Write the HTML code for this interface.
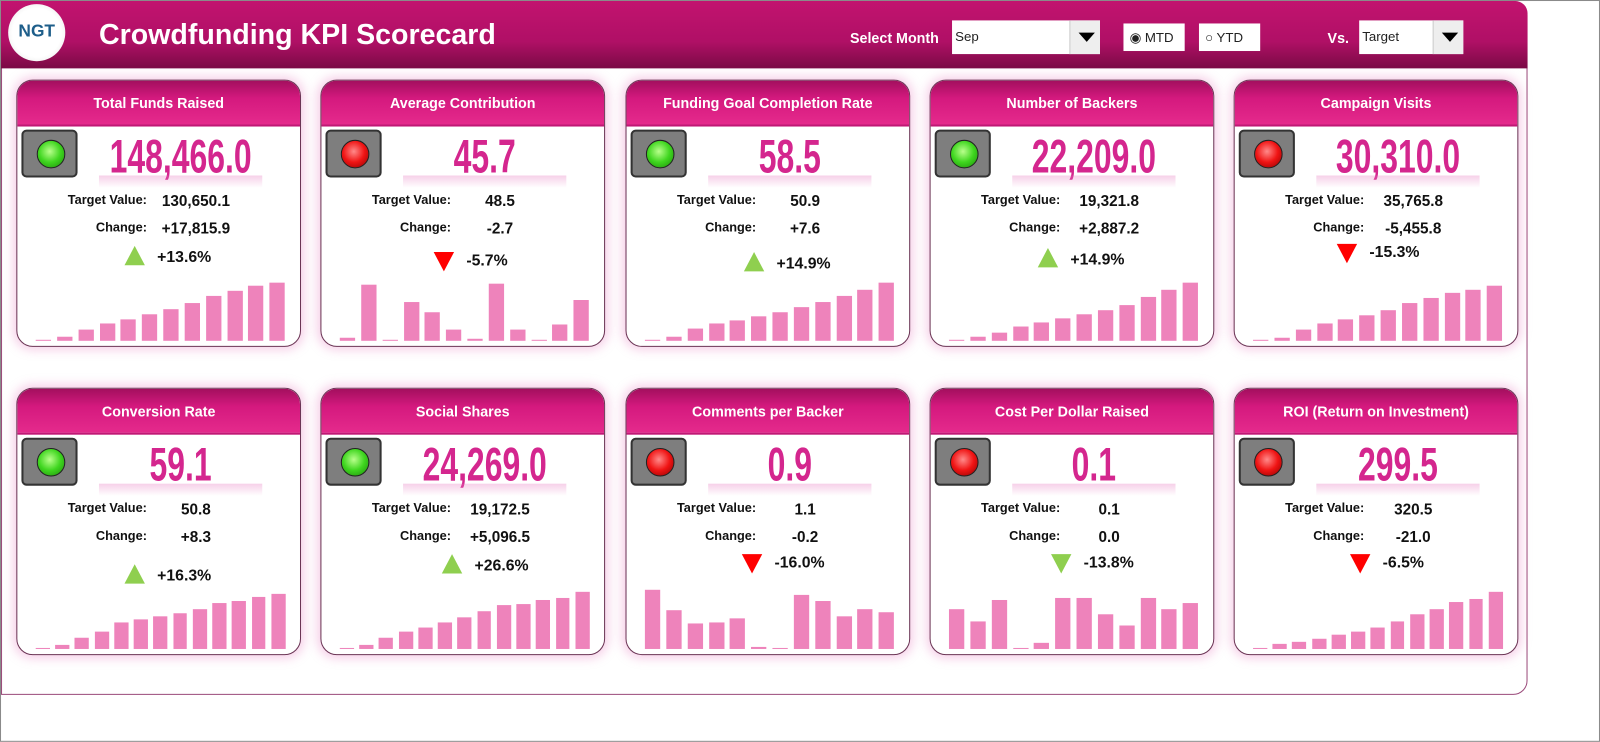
<!DOCTYPE html>
<html><head><meta charset="utf-8">
<style>
*{box-sizing:border-box;margin:0;padding:0}
html,body{width:1600px;height:742px;overflow:hidden;background:#fff}
body{font-family:"Liberation Sans",sans-serif;position:relative}
#w{position:absolute;left:0;top:0;width:1568px;height:727px;transform:scale(1.0204);transform-origin:0 0;border:1px solid #8a8a8a}
.frame{position:absolute;left:0;top:0;width:1496px;height:680px;border:1px solid #9a4a7a;border-radius:0 14px 14px 0;background:#fff}
.hdr{position:absolute;left:0;top:0;width:1496px;height:66px;background:linear-gradient(#c2136f,#b01066 60%,#7a0a45);border-radius:0 12px 0 0}
.logo{position:absolute;left:7px;top:3px;width:56px;height:56px;border-radius:50%;background:radial-gradient(#fff 60%,#ddd);text-align:center;font:bold 17px "Liberation Sans",sans-serif;color:#1e5e8a;line-height:54px}
.title{position:absolute;left:96px;top:17px;color:#fff;font-weight:bold;font-size:28px}
.ctl{position:absolute;color:#fff;font-weight:bold;font-size:14px}
.box{position:absolute;background:#fff;font-size:13px;color:#222;padding:8px 3px}
.arr{position:absolute;right:0;top:0;width:30px;height:100%;background:#eee;border-left:1px solid #ccc}
.arr:after{content:"";position:absolute;left:8px;top:12px;border-left:8px solid transparent;border-right:8px solid transparent;border-top:9px solid #000}
.card{position:absolute;width:279px;height:262px;border:1.5px solid #6b3555;border-radius:16px;background:#fff;box-shadow:0 0 10px 3px rgba(230,120,190,.35);overflow:hidden}
.ch{height:45px;background:linear-gradient(#a30f5e,#d4197e 40%,#e52a8c);color:#fff;font-weight:bold;font-size:14px;text-align:center;line-height:44px;border-bottom:2px solid #c01875}
.light{position:absolute;left:4px;top:48px;width:55px;height:47px;border:2px solid #333;border-radius:5px;background:#7e7e7e}
.light i{position:absolute;left:13px;top:8px;width:28px;height:28px;border-radius:50%;border:1px solid #222}
.g i{background:radial-gradient(circle at 45% 40%,#b9ff8c,#3fd61f 50%,#1c8a0a)}
.r i{background:radial-gradient(circle at 45% 40%,#ff8a8a,#f01414 50%,#8a0000)}
.big{position:absolute;left:40px;width:240px;top:47px;text-align:center;font-weight:bold;font-size:46px;color:#d4268e;transform:scaleX(0.68);letter-spacing:0px}
.refl{position:absolute;left:80px;width:160px;top:93px;height:12px;background:linear-gradient(rgba(230,120,190,.35),rgba(255,255,255,0))}
.lb{position:absolute;right:150px;font-weight:bold;font-size:12.5px;color:#111}
.vl{position:absolute;left:135px;width:80px;text-align:center;font-weight:bold;font-size:15px;color:#111}
.pc{position:absolute;left:120px;width:120px;font-weight:bold;font-size:15.5px;color:#111}
.up{display:inline-block;width:0;height:0;border-left:10px solid transparent;border-right:10px solid transparent;border-bottom:19px solid #8fcf4f;vertical-align:-3px;margin-right:12px}
.dn{display:inline-block;width:0;height:0;border-left:10px solid transparent;border-right:10px solid transparent;border-top:19px solid #f00;vertical-align:-6px;margin-right:12px}
.dg{border-top-color:#8fcf4f}
.bars{position:absolute;left:16px;bottom:5px;width:250px;height:62px}
.bars b{position:absolute;bottom:0;width:15px;background:#ee83bb}
</style></head><body><div id="w">
<div class="frame"></div>
<div class="hdr"></div>
<div class="logo">NGT</div>
<div class="title">Crowdfunding KPI Scorecard</div>
<div class="ctl" style="left:832px;top:28px">Select Month</div>
<div class="box" style="left:932px;top:19px;width:145px;height:33px">Sep<span class="arr"></span></div>
<div class="box" style="left:1100px;top:22px;width:60px;height:27px;padding:6px 6px">◉ MTD</div>
<div class="box" style="left:1174px;top:22px;width:60px;height:27px;padding:6px 6px">○ YTD</div>
<div class="ctl" style="left:1300px;top:28px">Vs.</div>
<div class="box" style="left:1331px;top:19px;width:102px;height:33px">Target<span class="arr"></span></div>

<div class="card" style="left:15px;top:77px"><div class="ch">Total Funds Raised</div><div class="light g"><i></i></div><div class="big">148,466.0</div><div class="refl"></div><div class="lb" style="top:110px">Target Value:</div><div class="vl" style="top:110px">130,650.1</div><div class="lb" style="top:137px">Change:</div><div class="vl" style="top:137px">+17,815.9</div><div class="pc" style="left:105px;top:162px"><span class="up"></span>+13.6%</div><div class="bars" data-h="1,4,11,17,21,26,31,37,44,49,54,57"></div></div>
<div class="card" style="left:313px;top:77px"><div class="ch">Average Contribution</div><div class="light r"><i></i></div><div class="big">45.7</div><div class="refl"></div><div class="lb" style="top:110px">Target Value:</div><div class="vl" style="top:110px">48.5</div><div class="lb" style="top:137px">Change:</div><div class="vl" style="top:137px">-2.7</div><div class="pc" style="left:110px;top:168px"><span class="dn"></span>-5.7%</div><div class="bars" data-h="3,55,1,38,28,11,2,56,11,1,16,40"></div></div>
<div class="card" style="left:612px;top:77px"><div class="ch">Funding Goal Completion Rate</div><div class="light g"><i></i></div><div class="big">58.5</div><div class="refl"></div><div class="lb" style="top:110px">Target Value:</div><div class="vl" style="top:110px">50.9</div><div class="lb" style="top:137px">Change:</div><div class="vl" style="top:137px">+7.6</div><div class="pc" style="left:115px;top:168px"><span class="up"></span>+14.9%</div><div class="bars" data-h="1,4,12,17,20,24,28,33,38,44,50,57"></div></div>
<div class="card" style="left:910px;top:77px"><div class="ch">Number of Backers</div><div class="light g"><i></i></div><div class="big">22,209.0</div><div class="refl"></div><div class="lb" style="top:110px">Target Value:</div><div class="vl" style="top:110px">19,321.8</div><div class="lb" style="top:137px">Change:</div><div class="vl" style="top:137px">+2,887.2</div><div class="pc" style="left:105px;top:164px"><span class="up"></span>+14.9%</div><div class="bars" data-h="1,4,8,14,18,22,26,30,35,43,50,57"></div></div>
<div class="card" style="left:1208px;top:77px"><div class="ch">Campaign Visits</div><div class="light r"><i></i></div><div class="big">30,310.0</div><div class="refl"></div><div class="lb" style="top:110px">Target Value:</div><div class="vl" style="top:110px">35,765.8</div><div class="lb" style="top:137px">Change:</div><div class="vl" style="top:137px">-5,455.8</div><div class="pc" style="left:100px;top:160px"><span class="dn"></span>-15.3%</div><div class="bars" data-h="1,3,11,17,21,25,30,37,42,47,50,54"></div></div>

<div class="card" style="left:15px;top:379px"><div class="ch">Conversion Rate</div><div class="light g"><i></i></div><div class="big">59.1</div><div class="refl"></div><div class="lb" style="top:110px">Target Value:</div><div class="vl" style="top:110px">50.8</div><div class="lb" style="top:137px">Change:</div><div class="vl" style="top:137px">+8.3</div><div class="pc" style="left:105px;top:172px"><span class="up"></span>+16.3%</div><div class="bars" data-h="1,4,11,17,26,29,32,35,39,45,47,51,54"></div></div>
<div class="card" style="left:313px;top:379px"><div class="ch">Social Shares</div><div class="light g"><i></i></div><div class="big">24,269.0</div><div class="refl"></div><div class="lb" style="top:110px">Target Value:</div><div class="vl" style="top:110px">19,172.5</div><div class="lb" style="top:137px">Change:</div><div class="vl" style="top:137px">+5,096.5</div><div class="pc" style="left:118px;top:162px"><span class="up"></span>+26.6%</div><div class="bars" data-h="1,4,11,17,21,26,31,37,43,44,48,50,56"></div></div>
<div class="card" style="left:612px;top:379px"><div class="ch">Comments per Backer</div><div class="light r"><i></i></div><div class="big">0.9</div><div class="refl"></div><div class="lb" style="top:110px">Target Value:</div><div class="vl" style="top:110px">1.1</div><div class="lb" style="top:137px">Change:</div><div class="vl" style="top:137px">-0.2</div><div class="pc" style="left:113px;top:162px"><span class="dn"></span>-16.0%</div><div class="bars" data-h="58,38,25,26,30,2,1,53,47,32,39,36"></div></div>
<div class="card" style="left:910px;top:379px"><div class="ch">Cost Per Dollar Raised</div><div class="light r"><i></i></div><div class="big">0.1</div><div class="refl"></div><div class="lb" style="top:110px">Target Value:</div><div class="vl" style="top:110px">0.1</div><div class="lb" style="top:137px">Change:</div><div class="vl" style="top:137px">0.0</div><div class="pc" style="left:118px;top:162px"><span class="dn dg"></span>-13.8%</div><div class="bars" data-h="39,27,48,1,6,50,50,34,23,50,39,45"></div></div>
<div class="card" style="left:1208px;top:379px"><div class="ch">ROI (Return on Investment)</div><div class="light r"><i></i></div><div class="big">299.5</div><div class="refl"></div><div class="lb" style="top:110px">Target Value:</div><div class="vl" style="top:110px">320.5</div><div class="lb" style="top:137px">Change:</div><div class="vl" style="top:137px">-21.0</div><div class="pc" style="left:113px;top:162px"><span class="dn"></span>-6.5%</div><div class="bars" data-h="1,5,7,10,14,17,21,27,34,39,46,49,56"></div></div>
</div>
<script>
document.querySelectorAll('.bars').forEach(function(e){
var h=e.getAttribute('data-h').split(',');var n=h.length;var step=250/n;
h.forEach(function(v,i){var b=document.createElement('b');b.style.left=(i*step+2)+'px';b.style.width=(step*0.72)+'px';b.style.height=v+'px';e.appendChild(b);});
});
</script>
</body></html>
